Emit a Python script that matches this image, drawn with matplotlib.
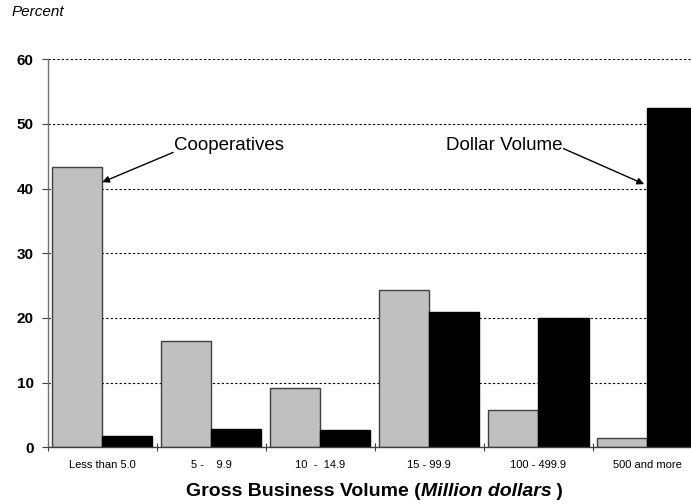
import matplotlib
matplotlib.use("Agg")
import matplotlib.pyplot as plt
import numpy as np

plt.rcParams['font.family'] = ['Liberation Sans', 'DejaVu Sans']

# share of cooperatives and of dollar volume, by size class
categories = ['Less than 5.0', '5 -    9.9', '10  -  14.9', '15 - 99.9',
              '100 - 499.9', '500 and more']
cooperatives = [43.4, 16.5, 9.1, 24.3, 5.8, 1.4]
dollar_volume = [1.7, 2.8, 2.7, 20.9, 20.0, 52.4]
y_ticks = [0, 10, 20, 30, 40, 50, 60]

fig = plt.figure(figsize=(6.91, 5.04), dpi=100)
ax = fig.add_axes([0.069, 0.1125, 0.931, 0.7698])

x = np.arange(len(categories))
w = 0.46
ax.bar(x - w, cooperatives, width=w, align='edge', color='#c0c0c0',
       edgecolor='#404040', linewidth=1, zorder=2)
ax.bar(x, dollar_volume, width=w, align='edge', color='black',
       edgecolor='black', linewidth=1, zorder=2)

ax.set_xlim(-0.5, 5.40)
ax.set_ylim(0, 60)
ax.set_yticks(y_ticks)
ax.set_yticklabels([str(v) for v in y_ticks], fontsize=11, fontweight='bold')
for v in y_ticks[1:]:
    ax.axhline(v, color='black', linestyle=(0, (2, 2)), linewidth=0.8, zorder=1)

ax.set_xticks(x)
ax.set_xticklabels(categories, fontsize=8,
                   family=['Liberation Sans Narrow', 'Liberation Sans'])
ax.set_xticks(np.arange(len(categories)) - 0.5, minor=True)
ax.tick_params(axis='x', which='major', length=0, pad=9)
ax.tick_params(axis='x', which='minor', direction='inout', length=6,
               width=0.8, color='#404040')
ax.tick_params(axis='y', direction='out', length=4, width=0.8,
               color='#404040', pad=6)

for side in ['top', 'right']:
    ax.spines[side].set_visible(False)
ax.spines['left'].set_color('#707070')
ax.spines['bottom'].set_color('#404040')
ax.spines['left'].set_linewidth(1)
ax.spines['bottom'].set_linewidth(1)

# arrows naming the two series
ax.text(0.66, 46.7, 'Cooperatives', fontsize=13.5, ha='left', va='center')
ax.annotate('', xy=(0.0, 41.0), xytext=(0.65, 45.6),
            arrowprops=dict(arrowstyle='-|>', color='black', lw=1,
                            mutation_scale=10, shrinkA=0, shrinkB=0))
ax.text(4.22, 46.7, 'Dollar Volume', fontsize=13.5, ha='right', va='center')
ax.annotate('', xy=(4.97, 40.7), xytext=(4.23, 46.2),
            arrowprops=dict(arrowstyle='-|>', color='black', lw=1,
                            mutation_scale=10, shrinkA=0, shrinkB=0))

fig.text(0.016, 0.976, 'Percent', fontsize=11, style='italic', va='center')

# axis title: bold with the unit part in bold italic
t1 = fig.text(0.269, 0.016, 'Gross Business Volume (', fontsize=14,
              fontweight='bold', va='baseline')
a2 = ax.annotate('Million dollars', xy=(1, 0), xycoords=t1, fontsize=14,
                 fontweight='bold', style='italic', va='bottom',
                 annotation_clip=False)
ax.annotate(' )', xy=(1, 0), xycoords=a2, fontsize=14, fontweight='bold',
            va='bottom', annotation_clip=False)

fig.savefig('out.png', dpi=100)
